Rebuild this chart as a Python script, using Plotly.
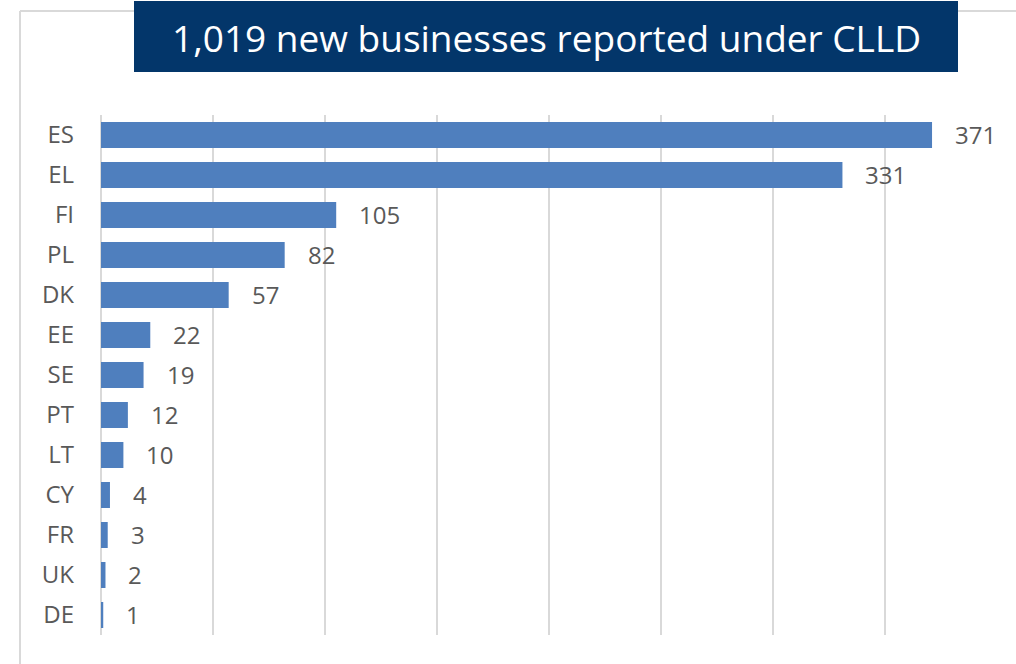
import plotly.graph_objects as go

# Country codes and counts of new businesses
countries = ["ES", "EL", "FI", "PL", "DK", "EE", "SE", "PT", "LT", "CY", "FR", "UK", "DE"]
businesses = [371, 331, 105, 82, 57, 22, 19, 12, 10, 4, 3, 2, 1]
title_text = "1,019 new businesses reported under CLLD"

W, H = 1016, 664
# plot area in pixels
PL, PR, PT, PB = 101, 997, 115, 635


def px_x(px):
    return (px - PL) / (PR - PL)


def px_y(py):
    return (PB - py) / (PB - PT)


BAR = "#4F7FBE"
GRID = "#D9D9D9"
TXT = "#595959"
NAVY = "#03366A"

fig = go.Figure()
fig.add_trace(go.Bar(
    x=businesses,
    y=countries,
    orientation="h",
    marker=dict(color=BAR, line=dict(width=0)),
    width=0.65,
    hoverinfo="x+y",
))

# value labels just right of each bar
for c, v in zip(countries, businesses):
    fig.add_annotation(
        x=v, y=c, xref="x", yref="y",
        text=str(v), showarrow=False,
        xanchor="left", yanchor="middle", xshift=21, yshift=1,
        font=dict(family="Open Sans", size=24, color=TXT),
    )

# outer frame (left and top edges)
fig.add_shape(type="line", xref="paper", yref="paper",
              x0=px_x(20), x1=px_x(20), y0=px_y(11), y1=px_y(700),
              line=dict(color=GRID, width=2), layer="below")
fig.add_shape(type="line", xref="paper", yref="paper",
              x0=px_x(20), x1=px_x(1030), y0=px_y(11), y1=px_y(11),
              line=dict(color=GRID, width=2), layer="below")

# title banner
fig.add_shape(type="rect", xref="paper", yref="paper",
              x0=px_x(134), x1=px_x(958), y0=px_y(72), y1=px_y(1),
              fillcolor=NAVY, line=dict(width=0), layer="above")
fig.add_annotation(
    x=px_x(546), y=px_y(37), xref="paper", yref="paper",
    text=title_text, showarrow=False, xanchor="center", yanchor="middle",
    font=dict(family="Open Sans", size=37, color="white"),
)

fig.update_layout(
    width=W, height=H,
    margin=dict(l=PL, r=W - PR, t=PT, b=H - PB, pad=0),
    paper_bgcolor="white", plot_bgcolor="white",
    showlegend=False,
    bargap=0.35,
)
fig.update_xaxes(
    range=[0, 400], dtick=50, showticklabels=False,
    showgrid=True, gridcolor=GRID, gridwidth=2,
    zeroline=True, zerolinecolor=GRID, zerolinewidth=2,
    showline=False, fixedrange=True,
)
fig.update_yaxes(
    categoryorder="array", categoryarray=countries, autorange="reversed",
    tickfont=dict(family="Open Sans", size=24, color=TXT),
    ticks="", ticklabelstandoff=26, showgrid=False, showline=False,
    fixedrange=True,
)

fig.write_html("out.html", config={"displayModeBar": False})
